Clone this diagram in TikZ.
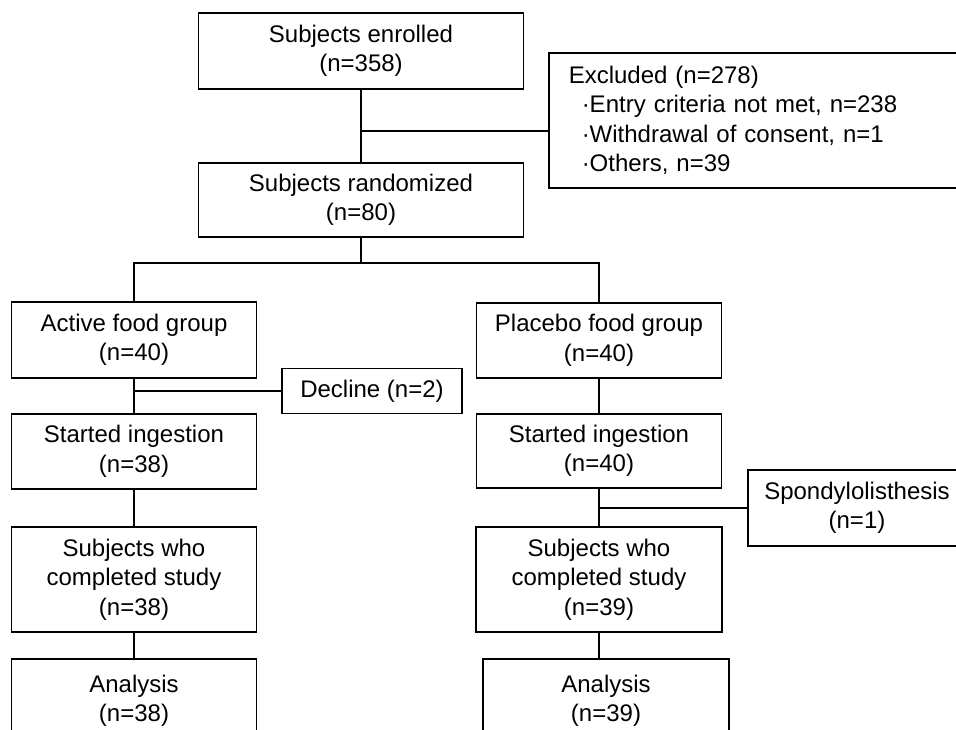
\documentclass[tikz,border=0pt]{standalone}
\usepackage{fontspec}
\setmainfont{Liberation Sans}
\begin{document}
\begin{tikzpicture}[x=1pt,y=-1pt,
  box/.style={draw, line width=1.5pt, inner sep=0pt, align=center, font=\fontsize{24}{29.5}\selectfont},
  link/.style={line width=1.5pt}]
\useasboundingbox (0,0) rectangle (956,729);
\clip (0,0) rectangle (956,729);
\fill[white] (0,0) rectangle (956,729);
% top
\node[box, minimum width=325pt, minimum height=76pt] (enr) at (361,51) {Subjects enrolled\\(n=358)};
\node[box, minimum width=325pt, minimum height=74pt] (rand) at (361,200) {Subjects randomized\\(n=80)};
\node[box, anchor=west, text width=400pt, inner xsep=20pt, align=left, minimum height=135pt] (exc) at (548,120.5)
  {Excluded (n=278)\\
   \hspace*{13pt}·Entry criteria not met, n=238\\
   \hspace*{13pt}·Withdrawal of consent, n=1\\
   \hspace*{13pt}·Others, n=39};
% groups
\node[box, minimum width=245pt, minimum height=76pt] (act) at (134,340) {Active food group\\(n=40)};
\node[box, minimum width=245pt, minimum height=75pt] (pla) at (599,340.5) {Placebo food group\\(n=40)};
\node[box, minimum width=180pt, minimum height=45pt] (dec) at (372,391) {Decline (n=2)};
\node[box, minimum width=245pt, minimum height=75pt] (stL) at (134,451.5) {Started ingestion\\(n=38)};
\node[box, minimum width=245pt, minimum height=74pt] (stR) at (599,451) {Started ingestion\\(n=40)};
\node[box, minimum width=218pt, minimum height=76pt] (spo) at (857,508) {Spondylolisthesis\\(n=1)};
\node[box, minimum width=245pt, minimum height=105pt] (cpL) at (134,579.5) {Subjects who\\completed study\\(n=38)};
\node[box, minimum width=246pt, minimum height=105pt] (cpR) at (599,579.5) {Subjects who\\completed study\\(n=39)};
\node[box, minimum width=245pt, minimum height=84pt] (anL) at (134,701) {Analysis\\(n=38)};
\node[box, minimum width=246pt, minimum height=84pt] (anR) at (606,701) {Analysis\\(n=39)};
% connectors
\coordinate (b1) at (361,131);
\coordinate (sp) at (361,263);
\draw[link] (enr.south) -- (rand.north);
\draw[link] (b1) -- (b1 -| exc.west);
\draw[link] (rand.south) -- (sp);
\draw[link] (act.north) |- (sp) -| (pla.north);
\draw[link] (act.south) -- (stL.north);
\draw[link] (act.south |- dec.west) -- (dec.west);
\draw[link] (stL.south) -- (cpL.north);
\draw[link] (cpL.south) -- (anL.north);
\draw[link] (pla.south) -- (stR.north);
\draw[link] (stR.south) -- (cpR.north);
\draw[link] (stR.south |- spo.west) -- (spo.west);
\draw[link] (cpR.south) -- (cpR.south |- anR.north);
\end{tikzpicture}
\end{document}
